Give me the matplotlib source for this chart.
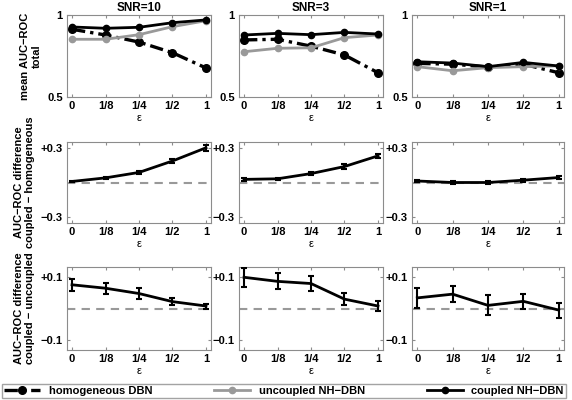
import matplotlib
matplotlib.use('Agg')
import matplotlib.pyplot as plt
import numpy as np

plt.rcParams['font.family'] = ['Liberation Sans', 'DejaVu Sans']
plt.rcParams['font.weight'] = 'bold'
plt.rcParams['font.size'] = 8

# data
eps_labels = ['0', '1/8', '1/4', '1/2', '1']
snr_titles = ['SNR=10', 'SNR=3', 'SNR=1']

# row 1: mean AUC-ROC
homog = [[0.913, 0.878, 0.835, 0.770, 0.677],
         [0.848, 0.852, 0.810, 0.756, 0.648],
         [0.705, 0.700, 0.683, 0.700, 0.648]]
uncoupled = [[0.852, 0.852, 0.880, 0.929, 0.965],
             [0.776, 0.797, 0.800, 0.862, 0.878],
             [0.685, 0.660, 0.679, 0.685, 0.690]]
coupled = [[0.927, 0.919, 0.925, 0.953, 0.970],
           [0.878, 0.888, 0.880, 0.894, 0.884],
           [0.715, 0.707, 0.685, 0.711, 0.689]]

# row 2: coupled - homogeneous
diff_ch = [[0.009, 0.040, 0.087, 0.186, 0.300],
           [0.027, 0.032, 0.077, 0.138, 0.230],
           [0.013, 0.000, 0.000, 0.020, 0.043]]
err_ch = [[0.008, 0.008, 0.012, 0.020, 0.025],
          [0.010, 0.010, 0.012, 0.020, 0.015],
          [0.012, 0.010, 0.012, 0.012, 0.012]]

# row 3: coupled - uncoupled
diff_cu = [[0.076, 0.065, 0.048, 0.022, 0.008],
           [0.100, 0.087, 0.080, 0.030, 0.008],
           [0.034, 0.046, 0.010, 0.023, -0.005]]
err_cu = [[0.020, 0.017, 0.017, 0.012, 0.008],
          [0.030, 0.026, 0.025, 0.020, 0.017],
          [0.032, 0.026, 0.032, 0.023, 0.024]]

ylabels = ['mean AUC\u2212ROC\ntotal',
           'AUC\u2212ROC difference\ncoupled \u2212 homogeneous',
           'AUC\u2212ROC difference\ncoupled \u2212 uncoupled']

W, H = 572.0, 400.0
col_px = [(67, 211), (239, 383), (412, 564)]
row_px = [(15, 97), (142, 223), (267, 350)]

spine_col = '#8c8c8c'
grey = '#999999'

fig = plt.figure(figsize=(5.72, 4.0), dpi=100)
x = np.arange(len(eps_labels))

for c in range(3):
    for r in range(3):
        x0, x1 = col_px[c]
        y0, y1 = row_px[r]
        ax = fig.add_axes([x0 / W, 1 - y1 / H, (x1 - x0) / W, (y1 - y0) / H])
        if r == 0:
            ax.plot(x, homog[c], color='black', lw=2.4, ls=(0, (4, 1.5, 1, 1.5)),
                    marker='o', ms=5.5, label='homogeneous DBN')
            ax.plot(x, uncoupled[c], color=grey, lw=2, marker='o', ms=4.5,
                    label='uncoupled NH\u2212DBN')
            ax.plot(x, coupled[c], color='black', lw=2, marker='o', ms=4.5,
                    label='coupled NH\u2212DBN')
            ax.set_ylim(0.5, 1.0)
            ax.set_yticks([0.5, 1])
            ax.set_yticklabels(['0.5', '1'])
            ax.set_title(snr_titles[c], fontsize=8.5, fontweight='bold', pad=3)
            if c == 0:
                handles, labels = ax.get_legend_handles_labels()
        else:
            d = diff_ch if r == 1 else diff_cu
            e = err_ch if r == 1 else err_cu
            lim = 0.35 if r == 1 else 0.133
            t = 0.3 if r == 1 else 0.1
            ax.axhline(0, color=grey, lw=1.5, ls=(0, (4, 3)), zorder=1)
            ax.errorbar(x, d[c], yerr=e[c], color='black', lw=2,
                        elinewidth=1.5, capsize=2, capthick=1.5, zorder=3)
            ax.set_ylim(-lim, lim)
            ax.set_yticks([-t, t])
            ax.set_yticklabels(['\u2212%g' % t, '+%g' % t])
        ax.set_xlim(-0.15, 4.15)
        ax.set_xticks(x)
        ax.set_xticklabels(eps_labels)
        ax.set_xlabel('\u03b5', fontsize=8, labelpad=1)
        ax.tick_params(direction='in', length=2, color=spine_col, top=True,
                       right=True, labelsize=8, pad=3)
        for s in ax.spines.values():
            s.set_color(spine_col)
        if c == 0:
            ax.set_ylabel(ylabels[r], fontsize=8, fontweight='bold', labelpad=4)

leg = fig.legend(handles, labels, loc='lower left', ncol=3, mode='expand',
                 bbox_to_anchor=(2 / W, 2 / H, 564 / W, 17 / H),
                 frameon=True, fancybox=False, handlelength=3.2,
                 borderaxespad=0, borderpad=0.2, fontsize=8)
leg.get_frame().set_edgecolor(spine_col)
leg.get_frame().set_linewidth(1)

fig.savefig('out.png', dpi=100)
